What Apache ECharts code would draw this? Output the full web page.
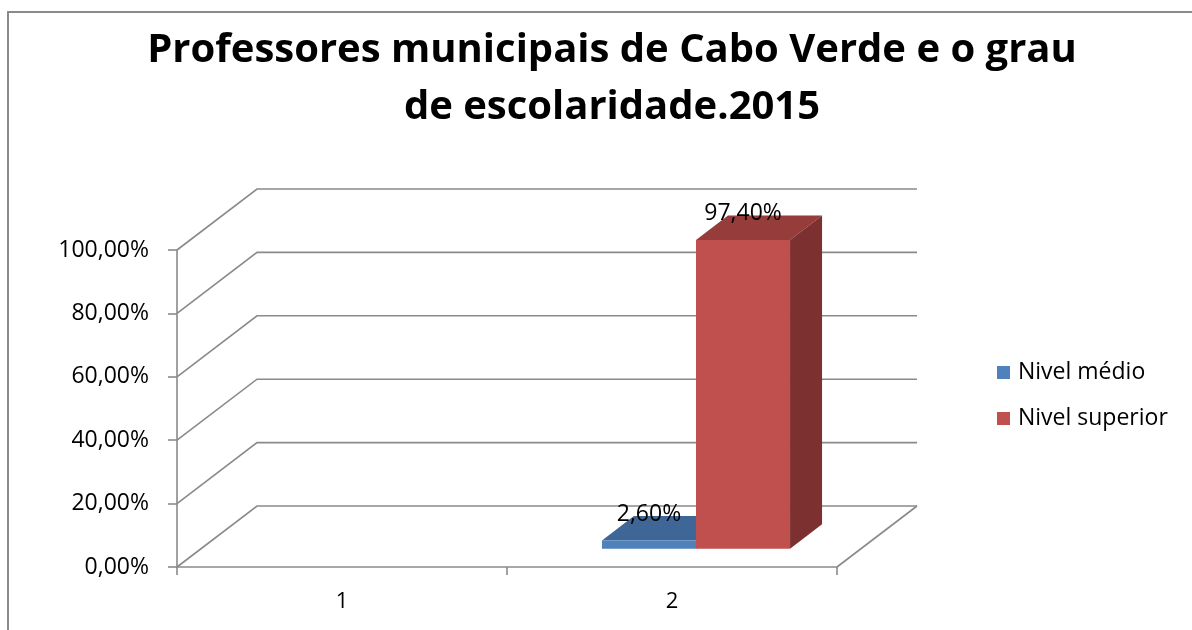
<!DOCTYPE html>
<html>
<head>
<meta charset="utf-8">
<script src="https://cdn.jsdelivr.net/npm/echarts@6/dist/echarts.min.js"></script>
<style>
  html, body { margin: 0; padding: 0; background: #fff; }
  #chart { width: 1192px; height: 630px; }
</style>
</head>
<body>
<div id="chart"></div>
<script>
// Chart data
const categories = ['1', '2'];
const seriesNames = ['Nivel médio', 'Nivel superior'];
const nivelMedio = [null, 0.026];
const nivelSuperior = [null, 0.974];
const yTicks = [0, 0.2, 0.4, 0.6, 0.8, 1];
const titleText = 'Professores municipais de Cabo Verde e o grau\nde escolaridade.2015';

// Styling / projection constants for the pseudo-3D look
const FONT = 'Open Sans';
const DEPTH = [80, -61];          // screen offset from front plane to back wall
const BAR_FRONT = 0.30;           // bar front face, as fraction of depth
const BAR_BACK = 0.70;            // bar back face, as fraction of depth
const BAR_RATIO = 0.285;          // bar width relative to category band
const GRID_COLOR = '#8a8a8a';
const PALETTE = [
  { front: '#4F81BD', top: '#3E6696', side: '#365985' },
  { front: '#C0504D', top: '#963C3A', side: '#7C302F' }
];

const fmtPct = v => (v * 100).toFixed(2).replace('.', ',') + '%';

function toData(values) {
  return values.map((v, i) => [i, v]).filter(d => d[1] != null);
}

// Back wall lines, left wall diagonals and floor edge
function renderFrame(params, api) {
  const v = api.value(1);
  const band = api.size([1, 0])[0];
  const pL = api.coord([0, v]);
  const pR = api.coord([categories.length - 1, v]);
  const xl = pL[0] - band / 2;
  const xr = pR[0] + band / 2;
  const y = pL[1];
  const children = [{
    type: 'polyline',
    shape: { points: [[xl, y], [xl + DEPTH[0], y + DEPTH[1]], [xr + DEPTH[0], y + DEPTH[1]]] },
    style: { stroke: GRID_COLOR, lineWidth: 1.6, fill: null }
  }];
  if (v === 0) {
    children.push({
      type: 'line',
      shape: { x1: xr, y1: y, x2: xr + DEPTH[0], y2: y + DEPTH[1] },
      style: { stroke: GRID_COLOR, lineWidth: 1.6 }
    });
  }
  return { type: 'group', children };
}

// Box-shaped column: front face, top face, right side face, and value label
function makeBarRenderer(k) {
  return function (params, api) {
    const ci = api.value(0);
    const v = api.value(1);
    if (isNaN(v)) return null;
    const base = api.coord([ci, 0]);
    const top = api.coord([ci, v]);
    const bw = api.size([1, 0])[0] * BAR_RATIO;
    const x0 = base[0] - bw + k * bw;
    const x1 = x0 + bw;
    const fx = DEPTH[0] * BAR_FRONT, fy = DEPTH[1] * BAR_FRONT;
    const bx = DEPTH[0] * BAR_BACK, by = DEPTH[1] * BAR_BACK;
    const c = PALETTE[k];
    return {
      type: 'group',
      children: [
        {
          type: 'polygon',
          shape: { points: [[x0 + fx, top[1] + fy], [x1 + fx, top[1] + fy], [x1 + bx, top[1] + by], [x0 + bx, top[1] + by]] },
          style: { fill: c.top }
        },
        {
          type: 'polygon',
          shape: { points: [[x1 + fx, top[1] + fy], [x1 + bx, top[1] + by], [x1 + bx, base[1] + by], [x1 + fx, base[1] + fy]] },
          style: { fill: c.side }
        },
        {
          type: 'rect',
          shape: { x: x0 + fx, y: top[1] + fy, width: bw, height: base[1] - top[1] },
          style: { fill: c.front }
        },
        {
          type: 'text',
          z2: 10,
          style: {
            x: x0 + fx + bw / 2,
            y: top[1] + fy - 26,
            text: fmtPct(v),
            align: 'center',
            verticalAlign: 'middle',
            fill: '#000',
            font: '23px "' + FONT + '"'
          }
        }
      ]
    };
  };
}

const chart = echarts.init(document.getElementById('chart'), null, { renderer: 'canvas' });

chart.setOption({
  backgroundColor: '#fff',
  animation: false,
  title: {
    text: titleText,
    left: 612,
    top: 22,
    padding: 0,
    textAlign: 'center',
    textStyle: { fontFamily: FONT, fontWeight: 'bold', fontSize: 40, lineHeight: 57, color: '#000' }
  },
  legend: {
    orient: 'vertical',
    left: 997,
    top: 361,
    padding: 0,
    itemWidth: 13,
    itemHeight: 13,
    itemGap: 23,
    icon: 'rect',
    data: seriesNames,
    textStyle: { fontFamily: FONT, fontSize: 23, lineHeight: 23, color: '#000', padding: [0, 0, 0, 3] }
  },
  graphic: [{
    type: 'rect',
    shape: { x: 8, y: 12, width: 1200, height: 640 },
    style: { fill: null, stroke: '#8a8a8a', lineWidth: 2 },
    silent: true
  }],
  grid: { left: 177, top: 250, width: 660, height: 317 },
  xAxis: {
    type: 'category',
    data: categories,
    boundaryGap: true,
    axisLine: { lineStyle: { color: GRID_COLOR, width: 1.6 } },
    axisTick: { show: true, length: 8, interval: 0, lineStyle: { color: GRID_COLOR, width: 1.6 } },
    axisLabel: { margin: 24, fontFamily: FONT, fontSize: 22, color: '#000' },
    splitLine: { show: false }
  },
  yAxis: {
    type: 'value',
    min: 0,
    max: 1,
    interval: 0.2,
    axisLine: { show: true, lineStyle: { color: GRID_COLOR, width: 1.6 } },
    axisTick: { show: true, length: 9, lineStyle: { color: GRID_COLOR, width: 1.6 } },
    axisLabel: { margin: 28, fontFamily: FONT, fontSize: 23, color: '#000', formatter: fmtPct },
    splitLine: { show: false }
  },
  series: [
    {
      type: 'custom',
      name: 'frame',
      silent: true,
      z: 1,
      renderItem: renderFrame,
      data: yTicks.map(v => [0, v])
    },
    {
      type: 'custom',
      name: seriesNames[0],
      z: 2,
      itemStyle: { color: PALETTE[0].front },
      renderItem: makeBarRenderer(0),
      data: toData(nivelMedio)
    },
    {
      type: 'custom',
      name: seriesNames[1],
      z: 3,
      itemStyle: { color: PALETTE[1].front },
      renderItem: makeBarRenderer(1),
      data: toData(nivelSuperior)
    }
  ]
});
</script>
</body>
</html>
